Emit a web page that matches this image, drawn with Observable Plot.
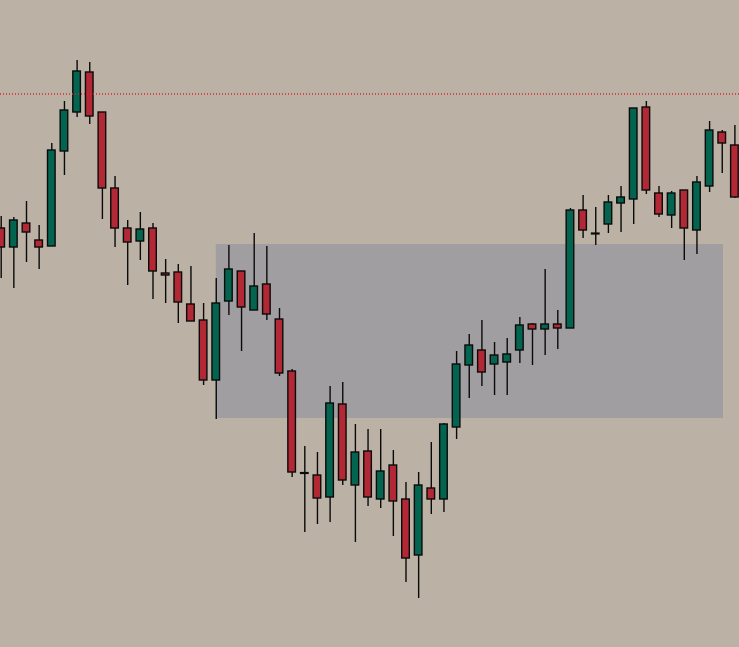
<!DOCTYPE html>
<html>
<head>
<meta charset="utf-8">
<script src="https://cdn.jsdelivr.net/npm/d3@7"></script>
<script src="https://cdn.jsdelivr.net/npm/@observablehq/plot@0.6"></script>
<style>
  html, body { margin: 0; padding: 0; background: #bbb2a5; overflow: hidden; }
  #chart svg { display: block; }
</style>
</head>
<body>
<div id="chart"></div>
<script>
// OHLC prices, one entry per bar (bar index = position)
const opens  = [1.1219,1.1200,1.1224,1.1207,1.1201,1.1296,1.1335,1.1375,1.1335,1.1259,1.1219,1.1206,1.1219,1.1174,1.1175,1.1143,1.1127,1.1067,1.1146,1.1176,1.1137,1.1163,1.1128,1.1076,1.09745,1.0972,1.0950,1.1043,1.0962,1.0996,1.0948,1.0982,1.0948,1.0892,1.0959,1.0948,1.1020,1.1082,1.1097,1.1083,1.1085,1.1097,1.1123,1.1118,1.1123,1.1119,1.1237,1.1214,1.1223,1.1244,1.1248,1.1340,1.1254,1.1232,1.1257,1.1217,1.1261,1.1315,1.1302];
const highs  = [1.1231,1.1230,1.1246,1.1222,1.1304,1.1346,1.1387,1.1385,1.1335,1.1271,1.1227,1.1235,1.1224,1.1188,1.1183,1.1181,1.1144,1.1169,1.1202,1.1176,1.1214,1.1201,1.1139,1.1078,1.1001,1.0995,1.1061,1.1065,1.1023,1.1018,1.1018,1.0997,1.0965,1.0975,1.1005,1.1024,1.1096,1.1113,1.1127,1.1105,1.1109,1.1130,1.1124,1.1178,1.1137,1.1239,1.1252,1.1240,1.1252,1.1261,1.1339,1.1346,1.1261,1.1256,1.1257,1.1271,1.1326,1.1317,1.1322];
const lows   = [1.1169,1.1159,1.1185,1.1178,1.1201,1.1272,1.1330,1.1323,1.1228,1.1200,1.1162,1.1187,1.1148,1.1144,1.1124,1.1126,1.1062,1.1028,1.1132,1.1096,1.1137,1.1127,1.1071,1.0970,1.0915,1.0923,1.0925,1.0962,1.0905,1.0941,1.0939,1.0911,1.0865,1.0849,1.0933,1.0935,1.1008,1.1049,1.1061,1.1052,1.1052,1.1084,1.1082,1.1092,1.1098,1.1119,1.1209,1.1202,1.1214,1.1215,1.1223,1.1253,1.1230,1.1219,1.1187,1.1193,1.1255,1.1274,1.1249];
const closes = [1.1200,1.1227,1.1215,1.1200,1.1297,1.1337,1.1376,1.1331,1.1259,1.1219,1.1205,1.1218,1.1176,1.1172,1.1145,1.1126,1.1067,1.1144,1.1178,1.1140,1.1161,1.1133,1.1074,1.0975,1.09745,1.0949,1.1044,1.0967,1.0995,1.0950,1.0976,1.0946,1.0889,1.0962,1.0948,1.1023,1.1083,1.1102,1.1075,1.1092,1.1093,1.1122,1.1118,1.1123,1.1119,1.1237,1.1217,1.1214,1.1245,1.1250,1.1339,1.1257,1.1233,1.1254,1.1219,1.1265,1.1317,1.1304,1.1250];

// Highlighted zone (bar range and price range) and the dotted level
const zoneBars   = [17, 57.1];
const zonePrices = [1.1029, 1.1203];
const levelPrice = 1.13535;

const bg = "#bbb2a5", up = "#03644f", down = "#b22834", zoneFill = "#a09ea0", levelColor = "#d8282f";

const bars = opens.map((o, i) => ({i, open: o, high: highs[i], low: lows[i], close: closes[i]}));
const bodies = bars.filter(d => d.open !== d.close);
const dojis = bars.filter(d => d.open === d.close);
const zone = [{x1: zoneBars[0], x2: zoneBars[1], y1: zonePrices[0], y2: zonePrices[1]}];
const half = 0.3;

const chart = Plot.plot({
  width: 739,
  height: 647,
  margin: 0,
  style: {background: bg, overflow: "hidden"},
  x: {type: "linear", domain: [0, 58], range: [0.7, 734.4], axis: null},
  y: {type: "linear", domain: [1.0800, 1.1447], axis: null},
  marks: [
    Plot.rect(zone, {x1: "x1", x2: "x2", y1: "y1", y2: "y2", fill: zoneFill}),
    Plot.ruleX(bars, {x: "i", y1: "low", y2: "high", stroke: "#0a0a0a", strokeWidth: 1.4}),
    Plot.rect(bodies, {
      x1: d => d.i - half, x2: d => d.i + half,
      y1: "open", y2: "close",
      fill: d => d.close > d.open ? up : down,
      stroke: "#0a0a0a", strokeWidth: 1.4
    }),
    Plot.ruleY(dojis, {y: "open", x1: d => d.i - half - 0.05, x2: d => d.i + half + 0.05, stroke: "#0a0a0a", strokeWidth: 2.2}),
    Plot.ruleY([levelPrice], {stroke: levelColor, strokeWidth: 1.3, strokeDasharray: "1,2"})
  ]
});
document.getElementById("chart").append(chart);
</script>
</body>
</html>
